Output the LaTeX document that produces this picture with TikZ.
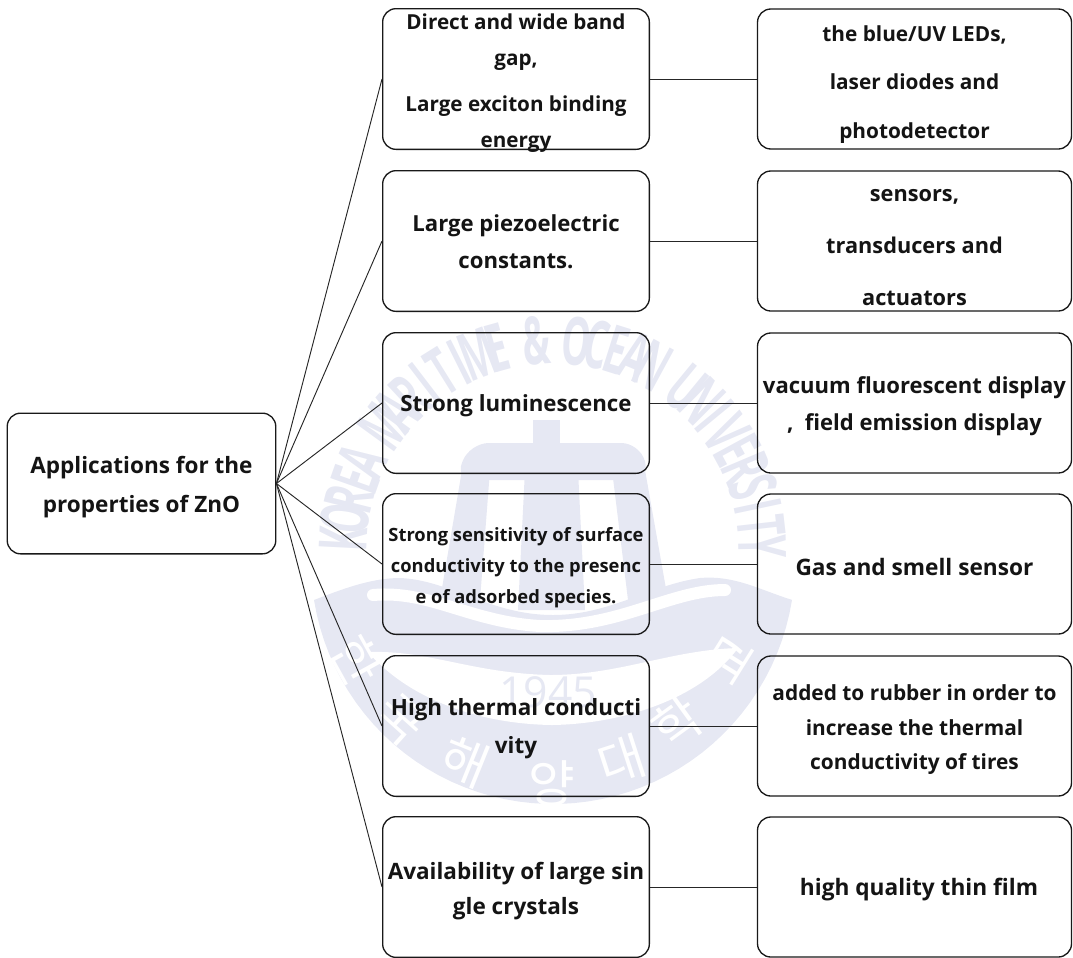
\documentclass[tikz,border=0pt]{standalone}
\usepackage{fontspec}
\setmainfont{Open Sans}
\newfontfamily\krfont{Noto Sans CJK KR}
\definecolor{wm}{HTML}{E6E8F3}
\newcommand{\fpx}[2]{\fontsize{#1}{#2}\selectfont\bfseries}
% text block lowered by #1 from the node's centre
\newcommand{\lo}[2]{\raisebox{\dimexpr-3pt-#1\relax}[0pt][0pt]{\begin{tabular}{@{}c@{}}#2\end{tabular}}}
\tikzset{
  x=.75pt,y=-.75pt,
  basebox/.style={draw=black!90,line width=1pt,rounded corners=10pt,inner sep=0pt,text=black!92},
  rootbox/.style={basebox,minimum width=201.4pt,minimum height=105.5pt},
  midbox/.style={basebox,minimum width=200pt,minimum height=105.5pt},
  endbox/.style={basebox,minimum width=235.5pt,minimum height=105pt},
  link/.style={draw=black!85,line width=.7pt},
  seal/.style={font=\fontsize{50pt}{50pt}\selectfont\bfseries,inner sep=0pt,text=wm},
  sealkr/.style={font=\fontsize{38pt}{38pt}\krfont\selectfont,inner sep=0pt,text=white}
}
\begin{document}
\begin{tikzpicture}
\useasboundingbox (0,0) rectangle (1073,957);
% watermark seal: ring text
\foreach \c [count=\i] in {K,O,R,E,A,{},M,A,R,I,T,I,M,E,{},\&,{},O,C,E,A,N,{},U,N,I,V,E,R,S,I,T,Y}{
  \pgfmathsetmacro{\a}{177-(\i-1)*5.5}
  \node[seal,rotate=\a-90,xscale=.55] (wl\i) at ({553+210*cos(\a)},{550-210*sin(\a)}) {\c};
}
% mast
\fill[wm] (533,420) rectangle (560,445);
\fill[wm,rounded corners=14pt] (470,443) -- (640,443) -- (650,480) -- (455,480) -- cycle;
\fill[wm] (462,470) -- (490,470) -- (480,600) -- (440,600) -- cycle;
\fill[wm] (525,470) -- (578,470) -- (585,610) -- (518,610) -- cycle;
\fill[wm] (612,470) -- (645,470) -- (668,600) -- (628,600) -- cycle;
% lower crescent with waves
\fill[wm] plot[domain=-171:-9,samples=50] ({553+242*cos(\x)},{562-242*sin(\x)})
  .. controls (760,590) and (735,575) .. (700,578)
  .. controls (650,585) and (610,615) .. (553,615)
  .. controls (490,615) and (450,580) .. (400,578)
  .. controls (370,578) and (340,590) .. (314,600) -- cycle;
\draw[white,line width=9pt,line cap=round] (373,595) .. controls (430,590) and (470,622) .. (540,626) .. controls (620,628) and (670,590) .. (725,590);
\fill[white] (368,652) .. controls (430,650) and (470,673) .. (550,675)
  .. controls (620,675) and (670,650) .. (738,648)
  .. controls (700,700) and (620,724) .. (552,725)
  .. controls (480,724) and (410,700) .. (368,652) -- cycle;
\node[seal,font=\fontsize{32pt}{32pt}\selectfont] (wyear) at (548,692) {1945};
\node[sealkr,rotate=-61] (wk1) at (357,660) {한};
\node[sealkr,rotate=-42] (wk2) at (400,720) {국};
\node[sealkr,rotate=-22] (wk3) at (465,762) {해};
\node[sealkr] (wk4) at (552,783) {양};
\node[sealkr,rotate=18] (wk5) at (622,760) {대};
\node[sealkr,rotate=36] (wk6) at (677,723) {학};
\node[sealkr,rotate=58] (wk7) at (730,660) {교};
% boxes
\node[rootbox,font=\fpx{16.9pt}{29pt}] (root) at (141.5,483.5) {\lo{2.7pt}{Applications for the\\properties of ZnO}};
\node[midbox,font=\fpx{15.5pt}{27pt}] (m1) at (516,79) {\lo{2.3pt}{Direct and wide band\\gap,\\[8pt]Large exciton binding\\energy}};
\node[midbox,font=\fpx{16.6pt}{28pt}] (m2) at (516,241) {\lo{2.6pt}{Large piezoelectric\\constants.}};
\node[midbox,font=\fpx{16.7pt}{28pt}] (m3) at (516,403) {\lo{2.25pt}{Strong luminescence}};
\node[midbox,font=\fpx{13.75pt}{23.2pt}] (m4) at (516,564) {\lo{2.25pt}{Strong sensitivity of surface\\conductivity to the presenc\\e of adsorbed species.}};
\node[midbox,font=\fpx{16.8pt}{28.5pt}] (m5) at (516,726) {\lo{2.3pt}{High thermal conducti\\vity}};
\node[midbox,font=\fpx{16.9pt}{26.5pt}] (m6) at (516,887) {\lo{3.7pt}{Availability of large sin\\gle crystals}};
\node[endbox,font=\fpx{15.6pt}{36.5pt}] (e1) at (914.5,79) {\lo{1.5pt}{the blue/UV LEDs,\\laser diodes and\\photodetector}};
\node[endbox,font=\fpx{16.3pt}{39pt}] (e2) at (914.5,241) {\lo{3pt}{sensors,\\transducers and\\actuators}};
\node[endbox,font=\fpx{16.55pt}{27.5pt}] (e3) at (914.5,403) {\lo{2.65pt}{vacuum fluorescent display\\,\ \ field emission display}};
\node[endbox,font=\fpx{17pt}{28pt}] (e4) at (914.5,564) {\lo{4.5pt}{Gas and smell sensor}};
\node[endbox,font=\fpx{15.65pt}{26pt}] (e5) at (914.5,726) {\lo{2.3pt}{added to rubber in order to\\increase the thermal\\conductivity of tires}};
\node[endbox,font=\fpx{17pt}{28pt}] (e6) at (914.5,887) {\lo{2.25pt}{\hspace*{6.75pt}high quality thin film}};
% connectors
\foreach \k in {1,...,6}{
  \draw[link] (root.east) -- (m\k.west);
  \draw[link] (m\k.east) -- (e\k.west);
}
\end{tikzpicture}
\end{document}
